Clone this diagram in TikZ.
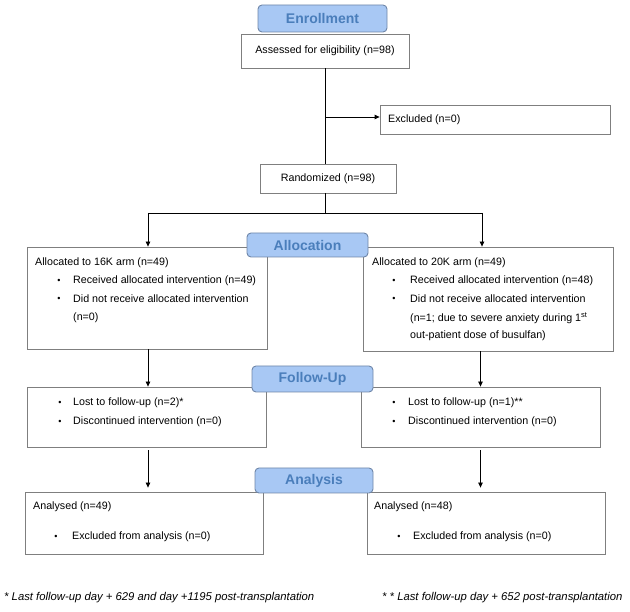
\documentclass[tikz,border=0pt]{standalone}
\usepackage{fontspec}
\setmainfont{Liberation Sans}
\usetikzlibrary{arrows.meta}
\definecolor{hdrfill}{HTML}{A8C8F4}
\definecolor{hdrdraw}{HTML}{6F86A8}
\definecolor{hdrtext}{HTML}{4A7EBB}
\definecolor{boxdraw}{HTML}{7F7F7F}
\tikzset{
  box/.style={draw=boxdraw, line width=0.8pt, fill=white, inner sep=0pt},
  hdr/.style={draw=hdrdraw, line width=0.9pt, fill=hdrfill, rounded corners=4pt,
    text=hdrtext, font=\fontsize{14}{16}\selectfont\bfseries, inner sep=0pt},
  txt/.style={anchor=west, inner sep=0pt, font=\fontsize{10.7}{12}\selectfont},
  bul/.style={anchor=center, inner sep=0pt, font=\fontsize{9}{10}\selectfont},
  foot/.style={anchor=west, inner sep=0pt, font=\fontsize{11.3}{13}\selectfont\itshape},
  conn/.style={draw=black, line width=0.8pt},
  arr/.style={conn, -{Triangle[length=5pt,width=4.5pt]}}
}
\begin{document}
\begin{tikzpicture}[x=1pt,y=1pt]
\useasboundingbox (0,0) rectangle (630,-612);
% boxes
\node[box, minimum width=168, minimum height=34] (assessed) at (325,-51) {};
\node[txt, anchor=center] (assessedT) at (assessed.center) {Assessed for eligibility (n=98)};
\node[box, minimum width=230, minimum height=29] (excluded) at (495,-119.5) {};
\node[txt] (excludedT) at (388,-119.5) {Excluded (n=0)};
\node[box, minimum width=136, minimum height=29] (randomized) at (328,-178.5) {};
\node[txt, anchor=center] (randomizedT) at (randomized.center) {Randomized (n=98)};

\node[box, minimum width=240, minimum height=102] (allocL) at (147,-298) {};
\node[box, minimum width=250, minimum height=104] (allocR) at (488,-299) {};
\node[box, minimum width=239, minimum height=60] (fuL) at (146.5,-417) {};
\node[box, minimum width=239, minimum height=60] (fuR) at (480.5,-417) {};
\node[box, minimum width=238, minimum height=62] (anL) at (144,-523) {};
\node[box, minimum width=238, minimum height=62] (anR) at (486,-523) {};

% allocation texts
\node[txt] (aL1) at (35,-263) {Allocated to 16K arm (n=49)};
\node[bul] (aLb1) at (59,-281) {\textbullet};
\node[txt] (aL2) at (73,-281) {Received allocated intervention (n=49)};
\node[bul] (aLb2) at (59,-299) {\textbullet};
\node[txt] (aL3) at (73,-299) {Did not receive allocated intervention};
\node[txt] (aL4) at (73,-318) {(n=0)};

\node[txt] (aR1) at (372,-263) {Allocated to 20K arm (n=49)};
\node[bul] (aRb1) at (394,-281) {\textbullet};
\node[txt] (aR2) at (410,-281) {Received allocated intervention (n=48)};
\node[bul] (aRb2) at (394,-299) {\textbullet};
\node[txt] (aR3) at (410,-299) {Did not receive allocated intervention};
\node[txt] (aR4) at (410,-318) {(n=1; due to severe anxiety during 1\textsuperscript{st}};
\node[txt] (aR5) at (410,-336) {out-patient dose of busulfan)};

% follow-up texts
\node[bul] (fLb1) at (60,-403) {\textbullet};
\node[txt] (fL1) at (73,-403) {Lost to follow-up (n=2)*};
\node[bul] (fLb2) at (60,-422) {\textbullet};
\node[txt] (fL2) at (73,-422) {Discontinued intervention (n=0)};
\node[bul] (fRb1) at (394,-403) {\textbullet};
\node[txt] (fR1) at (408,-403) {Lost to follow-up (n=1)**};
\node[bul] (fRb2) at (394,-422) {\textbullet};
\node[txt] (fR2) at (408,-422) {Discontinued intervention (n=0)};

% analysis texts
\node[txt] (nL1) at (33,-507) {Analysed (n=49)};
\node[bul] (nLb1) at (56,-537) {\textbullet};
\node[txt] (nL2) at (72,-537) {Excluded from analysis (n=0)};
\node[txt] (nR1) at (374,-507) {Analysed (n=48)};
\node[bul] (nRb1) at (399,-537) {\textbullet};
\node[txt] (nR2) at (413,-537) {Excluded from analysis (n=0)};

% connectors
\coordinate (excl) at (325,-117);
\coordinate (split) at (325,-213);
\coordinate (splitL) at (148,-213);
\coordinate (splitR) at (482,-213);
\draw[conn] (assessed.south -| excl) -- (randomized.north -| excl);
\draw[arr] (excl) -- (excl -| excluded.west);
\draw[conn] (randomized.south -| split) -- (split);
\draw[conn] (splitL) -- (splitR);
\draw[arr] (splitL) -- (splitL |- allocL.north);
\draw[arr] (splitR) -- (splitR |- allocR.north);
\draw[arr] (allocL.south -| splitL) -- (fuL.north -| splitL);
\draw[arr] (allocR.south -| fuR.north) -- (fuR.north);
\draw[arr, shorten <=3pt, shorten >=4pt] (fuL.south -| splitL) -- (anL.north -| splitL);
\draw[arr, shorten <=3pt, shorten >=4pt] (fuR.south) -- (fuR.south |- anR.north);

% headers
\node[hdr, minimum width=129, minimum height=27] (enroll) at (322.5,-18.5) {Enrollment};
\node[hdr, minimum width=121, minimum height=24] (alloc) at (307.5,-245) {Allocation};
\node[hdr, minimum width=121, minimum height=26] (follow) at (312.5,-379) {Follow-Up};
\node[hdr, minimum width=118, minimum height=25] (analysis) at (314,-480.5) {Analysis};

% footnotes
\node[foot] (foot1) at (4,-598) {* Last follow-up day + 629 and day +1195 post-transplantation};
\node[foot] (foot2) at (382,-598) {* * Last follow-up day + 652 post-transplantation};
\end{tikzpicture}
\end{document}
